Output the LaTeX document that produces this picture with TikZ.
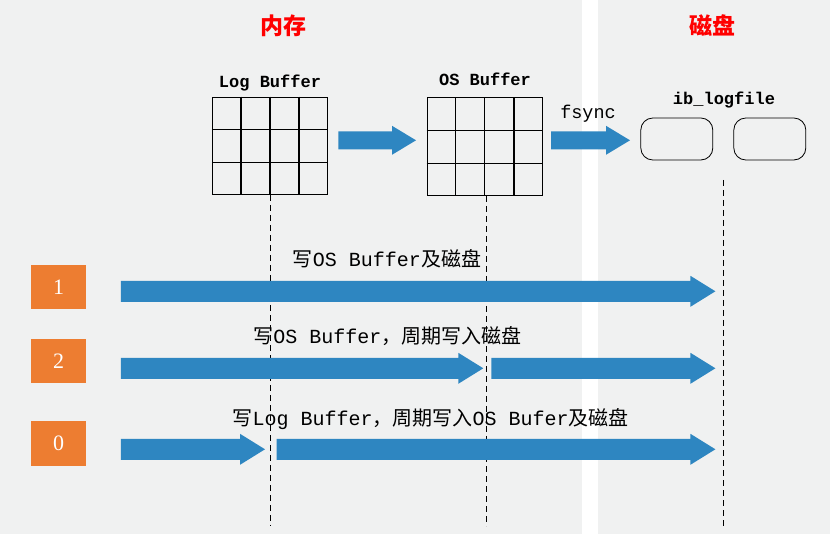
\documentclass[tikz,border=0pt]{standalone}
\usepackage{fontspec}
\setmonofont{Liberation Mono}
\newfontfamily\cjk{Noto Sans CJK SC}
\newfontfamily\digitfont{Liberation Serif}
\usetikzlibrary{positioning,calc}

\definecolor{panelgray}{RGB}{240,241,241}
\definecolor{flowblue}{RGB}{46,134,193}
\definecolor{modeorange}{RGB}{237,125,49}

% block arrow: start, tip, half body, half head, head length
\newcommand\flowarrow[5]{%
  \fill[flowblue] ($(#1)+(0,-#3)$) -- ($(#2)+(-#5,-#3)$) -- ($(#2)+(-#5,-#4)$) -- (#2)
    -- ($(#2)+(-#5,#4)$) -- ($(#2)+(-#5,#3)$) -- ($(#1)+(0,#3)$) -- cycle;}

\tikzset{
  title/.style={text=red, inner sep=0pt, font=\cjk\bfseries\fontsize{23}{23}\selectfont},
  buf/.style={draw, line width=1.3pt, minimum width=115pt, minimum height=97pt, inner sep=0pt},
  cell/.style={line width=1.3pt},
  buflabel/.style={inner sep=0pt, font=\ttfamily\bfseries\fontsize{17}{17}\selectfont},
  logfile/.style={draw, line width=0.8pt, rounded corners=12pt, minimum width=72pt, minimum height=42pt},
  mode/.style={fill=modeorange, text=white, minimum width=55pt, minimum height=44pt, inner sep=0pt, font=\digitfont\fontsize{22}{22}\selectfont},
  guide/.style={dash pattern=on 6pt off 4pt, line width=1pt},
  note/.style={inner sep=0pt, anchor=base, font=\ttfamily\fontsize{20}{20}\selectfont}
}

\begin{document}
\begin{tikzpicture}[x=1pt,y=-1pt]
% panels
\fill[white] (0,0) rectangle (830,534);
\fill[panelgray] (0,0) rectangle (582,534);
\fill[panelgray] (598,0) rectangle (830,534);
\useasboundingbox (0,0) rectangle (830,534);

\node[title] (mem) at (283,25.5) {内存};
\node[title] (disk) at (712.5,25.5) {磁盘};

% buffers
\node[buf] (lb) at (270,145.8) {};
\node[buf, minimum height=98pt] (ob) at (484.8,146.8) {};
\foreach \b in {lb,ob} {
  \foreach \k in {1,2,3}
    \draw[cell] ($(\b.north west)!\k/4!(\b.north east)$) -- ($(\b.south west)!\k/4!(\b.south east)$);
  \foreach \k in {1,2}
    \draw[cell] ($(\b.north west)!\k/3!(\b.south west)$) -- ($(\b.north east)!\k/3!(\b.south east)$);
}
\node[buflabel, anchor=base] (lbname) at (270,88) {Log Buffer};
\node[buflabel, anchor=base] (obname) at (485,85.7) {OS Buffer};

% log files
\node[logfile] (f1) at (676.8,139) {};
\node[logfile] (f2) at (769.8,139) {};
\node[buflabel, anchor=base] (fname) at (724,105) {ib\_logfile};
\node[note, font=\ttfamily\fontsize{18.5}{18.5}\selectfont] (fs) at (588,119) {fsync};

\coordinate (lbout) at (338.3,140.3);
\coordinate (obin) at (416,140.3);
\coordinate (obout) at (551,140.3);
\coordinate (fin) at (630,140.3);
\flowarrow{lbout}{obin}{9}{14.5}{24}
\flowarrow{obout}{fin}{9}{14.5}{24}

% modes
\node[mode] (m1) at (58.5,287) {1};
\node[mode] (m2) at (58.5,361.5) {2};
\node[mode] (m0) at (58.5,443.5) {0};

\node[note] (t1) at (387,267) {{\cjk 写}OS Buffer{\cjk 及磁盘}};
\node[note] (t2) at (387.5,344) {{\cjk 写}OS Buffer{\cjk ，周期写入磁盘}};
\node[note] (t0) at (430.6,425) {{\cjk 写}Log Buffer{\cjk ，周期写入}OS Bufer{\cjk 及磁盘}};

% guide lines
\coordinate (g1) at (lb.south |- 0,526);
\coordinate (g2t) at (486,196);
\coordinate (g2) at (486,526);
\coordinate (g3t) at (723.4,180);
\coordinate (g3) at (723.4,526);
\draw[guide] (lb.south) -- (g1);
\draw[guide] (g2t) -- (g2);
\draw[guide] (g3t) -- (g3);

\coordinate (r1s) at (120.8,291.3);
\coordinate (r1e) at (715.4,291.3);
\coordinate (r2s) at (120.8,368.3);
\coordinate (r2m) at (483.3,368.3);
\coordinate (r2n) at (491.3,368.3);
\coordinate (r2e) at (715.4,368.3);
\coordinate (r0s) at (120.8,449.3);
\coordinate (r0m) at (265,449.3);
\coordinate (r0n) at (276.6,449.3);
\coordinate (r0e) at (715.4,449.3);
\flowarrow{r1s}{r1e}{10.5}{15.5}{25}
\flowarrow{r2s}{r2m}{10.5}{15.5}{25}
\flowarrow{r2n}{r2e}{10.5}{15.5}{25}
\flowarrow{r0s}{r0m}{10.5}{15.5}{25}
\flowarrow{r0n}{r0e}{10.5}{15.5}{25}
\end{tikzpicture}
\end{document}
